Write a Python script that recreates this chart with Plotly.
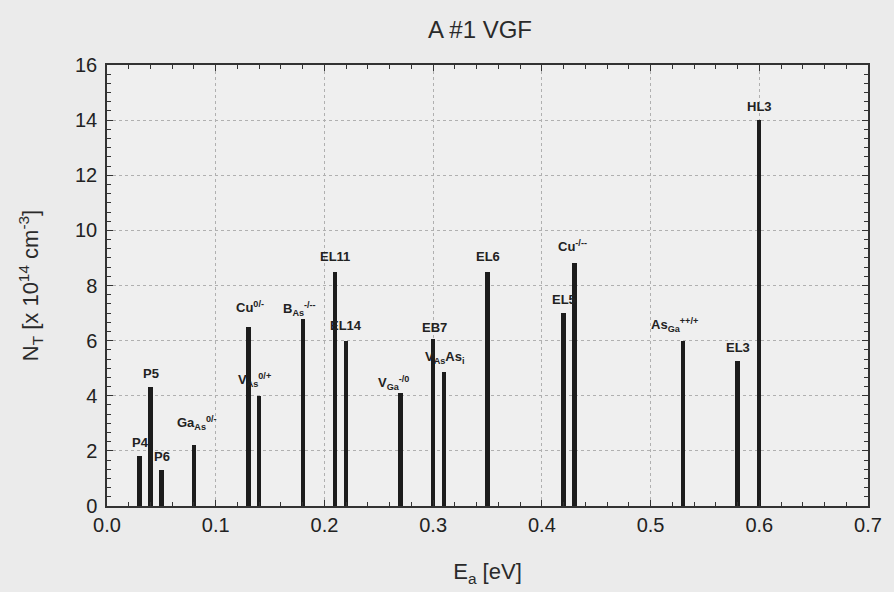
import plotly.graph_objects as go

# Data
energies = [0.03, 0.04, 0.05, 0.08, 0.13, 0.14, 0.18, 0.21, 0.22, 0.27,
            0.30, 0.31, 0.35, 0.42, 0.43, 0.53, 0.58, 0.60]
densities = [1.8, 4.3, 1.3, 2.2, 6.5, 4.0, 6.8, 8.5, 6.0, 4.1,
             6.05, 4.85, 8.5, 7.0, 8.8, 6.0, 5.25, 14.0]
labels = ["P4", "P5", "P6", "Ga<sub>As</sub><sup>0/-</sup>", "Cu<sup>0/-</sup>",
          "V<sub>As</sub><sup>0/+</sup>", "B<sub>As</sub><sup>-/--</sup>", "EL11", "EL14",
          "V<sub>Ga</sub><sup>-/0</sup>", "EB7", "V<sub>As</sub>As<sub>i</sub>", "EL6",
          "EL5", "Cu<sup>-/--</sup>", "As<sub>Ga</sub><sup>++/+</sup>", "EL3", "HL3"]

# label placement (pixel offsets from bar top), style only
label_style = [
    ("center", 1, 14), ("center", 1, 14), ("center", 1, 14),
    ("left", -19, 22), ("left", -14, 20), ("left", -23, 16),
    ("left", -22, 10), ("center", 0, 15), ("center", 0, 15),
    ("left", -25, 10), ("center", 1, 12), ("center", 0, 15),
    ("center", 0, 15), ("center", 0, 14), ("left", -18, 17),
    ("left", -34, 16), ("center", 0, 14), ("center", 0, 14),
]

FONT = "Liberation Sans, Arial, sans-serif"

fig = go.Figure()
fig.add_trace(go.Bar(x=energies, y=densities, width=0.004,
                     marker=dict(color="#1c1c1c", line=dict(width=0)),
                     hoverinfo="x+y"))

for e, d, t, (anc, dx, dy) in zip(energies, densities, labels, label_style):
    fig.add_annotation(x=e, y=d, text=t, showarrow=False, xanchor=anc,
                       yanchor="middle", xshift=dx, yshift=dy,
                       font=dict(family=FONT, size=13, color="#222222", weight="bold"))

axis_common = dict(showline=True, linecolor="#333333", linewidth=1.5,
                   mirror="ticks", ticks="inside", ticklen=6, tickcolor="#333333",
                   showgrid=True, gridcolor="#b0b0b0", griddash="dot", gridwidth=1,
                   zeroline=False,
                   tickfont=dict(family=FONT, size=20, color="#222222"))

fig.update_xaxes(range=[0, 0.7], dtick=0.1, tickformat=".1f",
                 minor=dict(dtick=0.02, ticks="inside", ticklen=4, tickcolor="#333333"),
                 title=dict(text="E<sub>a</sub> [eV]", standoff=29,
                            font=dict(family=FONT, size=22, color="#2a2a2a")),
                 **axis_common)
fig.update_yaxes(range=[0, 16], dtick=2,
                 minor=dict(dtick=1/3, ticks="inside", ticklen=4, tickcolor="#333333"),
                 title=dict(text="N<sub>T</sub> [x 10<sup>14</sup> cm<sup>-3</sup>]", standoff=30,
                            font=dict(family=FONT, size=22, color="#2a2a2a")),
                 ticklabelstandoff=4,
                 **axis_common)

fig.update_layout(
    width=894, height=592,
    margin=dict(l=107, r=19, t=65, b=86),
    paper_bgcolor="#ebebeb", plot_bgcolor="#efefef",
    showlegend=False, bargap=0,
    title=dict(text="A #1 VGF", x=480/894, xanchor="center", y=1-30/592, yanchor="middle",
               font=dict(family="Liberation Sans Narrow, " + FONT, size=24, color="#2a2a2a")),
)

fig.write_html("out.html", config={"displayModeBar": False},
               post_script="document.body.style.margin='0';document.body.style.background='#ebebeb';")
